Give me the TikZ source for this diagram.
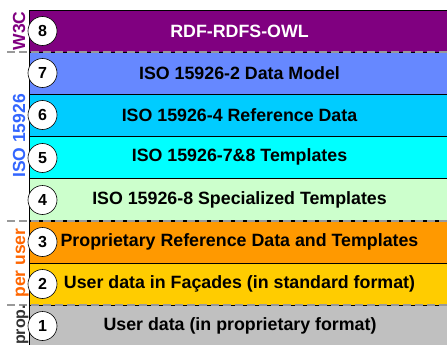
\documentclass[tikz,border=0pt]{standalone}
\usepackage{fontspec}
\setmainfont{Liberation Sans}
\definecolor{cW}{HTML}{800080}
\definecolor{cSeven}{HTML}{6688FF}
\definecolor{cSix}{HTML}{00CCFF}
\definecolor{cFive}{HTML}{00FFFF}
\definecolor{cFour}{HTML}{CCFFCC}
\definecolor{cThree}{HTML}{FF9900}
\definecolor{cTwo}{HTML}{FFCC00}
\definecolor{cOne}{HTML}{C0C0C0}
\definecolor{cIso}{HTML}{3366FF}
\definecolor{cUser}{HTML}{FF6600}
\definecolor{cSep}{HTML}{999999}
\begin{document}
\begin{tikzpicture}[x=1pt,y=-1pt,
  rowbox/.style={draw=black, line width=0.6pt, minimum width=421pt, minimum height=42pt,
    inner sep=0pt, font=\fontsize{17.8}{19}\selectfont\bfseries},
  num/.style={circle, draw=black, line width=0.6pt, fill=white, minimum size=29pt, inner sep=0pt,
    font=\fontsize{16}{17}\selectfont\bfseries},
  sep/.style={draw=cSep, line width=2.6pt, dash pattern=on 8pt off 4pt},
  grouplabel/.style={rotate=90, anchor=base, font=\fontsize{17.5}{19}\selectfont\bfseries}]
\useasboundingbox (0,0) rectangle (447,345);
\begin{scope}
\clip (0,0) rectangle (447,345);
\node[rowbox, fill=cOne, minimum height=44pt] (r1) at (239.5,327) {};
\node[font=\fontsize{17.8}{19}\selectfont\bfseries] (t1) at (240,326) {User data (in proprietary format)};
\node[rowbox, fill=cTwo] (r2) at (239.5,284) {User data in Façades (in standard format)};
\node[rowbox, fill=cThree] (r3) at (239.5,242) {Proprietary Reference Data and Templates};
\node[rowbox, fill=cFour] (r4) at (239.5,199.5) {ISO 15926-8 Specialized Templates};
\node[rowbox, fill=cFive] (r5) at (239.5,157) {ISO 15926-7\&8 Templates};
\node[rowbox, fill=cSix] (r6) at (239.5,115) {ISO 15926-4 Reference Data};
\node[rowbox, fill=cSeven] (r7) at (239.5,73) {ISO 15926-2 Data Model};
\node[rowbox, fill=cW, text=white] (r8) at (239.5,31) {RDF-RDFS-OWL};
\node[num] (c8) at (42.5,31) {8};
\node[num] (c7) at (42.5,73) {7};
\node[num] (c6) at (42.5,115) {6};
\node[num] (c5) at (42.5,158) {5};
\node[num] (c4) at (42.5,200) {4};
\node[num] (c3) at (42.5,242) {3};
\node[num] (c2) at (42.5,284) {2};
\node[num] (c1) at (42.5,326) {1};
\coordinate (s1a) at (7,52);   \coordinate (s1b) at (460,52);
\coordinate (s2a) at (7,221);  \coordinate (s2b) at (460,221);
\coordinate (s3a) at (7,305);  \coordinate (s3b) at (460,305);
\draw[sep] (s1a) -- (s1b);
\draw[sep] (s2a) -- (s2b);
\draw[sep] (s3a) -- (s3b);
\node[grouplabel, text=cW] (gW) at (25,31) {W3C};
\node[grouplabel, text=cIso] (gIso) at (25,136) {ISO 15926};
\node[grouplabel, text=cUser] (gUser) at (25,263) {per user};
\node[grouplabel, text=black!80, font=\fontsize{16}{17}\selectfont\bfseries] (gProp) at (25,325) {prop.};
\end{scope}
\end{tikzpicture}
\end{document}
